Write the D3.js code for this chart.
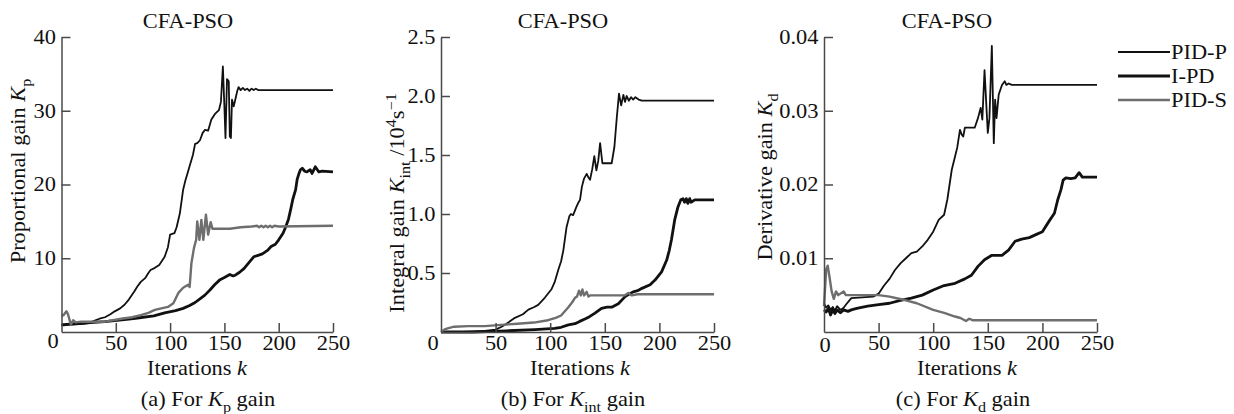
<!DOCTYPE html>
<html>
<head>
<meta charset="utf-8">
<script src="https://cdn.jsdelivr.net/npm/d3@7"></script>
<style>
body { margin: 0; background: #fff; }
svg text { font-family: "Liberation Serif", "Times New Roman", serif; fill: #111; }
</style>
</head>
<body>
<svg id="chart" width="1234" height="414"></svg>
<script>
// iterations on every x axis
const iterTicks = [50, 100, 150, 200, 250];
const kpTicks = [10, 20, 30, 40];
const kintTicks = [0.5, 1.0, 1.5, 2.0, 2.5];
const kdTicks = [0.01, 0.02, 0.03, 0.04];
const seriesNames = ["PID-P", "I-PD", "PID-S"];

// (a) Kp  -- [iteration, value]
const kpPIDP = [[0,1.0],[10,1.0],[20,1.1],[25,1.2],[30,1.5],[35,1.8],[40,2.0],[45,2.4],[49,2.8],[54,3.2],[58,3.7],[62,4.4],[67,5.5],[70,6.2],[73,6.8],[77,7.3],[80,8.0],[82,8.4],[86,8.7],[90,9.1],[95,10.2],[98,11.5],[100,13.2],[104,13.4],[106,14.2],[109,16.1],[112,19.3],[114,20.5],[116,21.5],[118,22.5],[121,24.0],[123,25.5],[125,25.6],[127.5,26.0],[130,27.0],[132,27.4],[135,27.3],[138,28.8],[141,29.5],[143,29.8],[145,30.1],[146.8,31.2],[148.6,36.0],[150,30.5],[151,26.3],[152.4,34.3],[154,34.0],[155,26.5],[156,26.3],[157,31.5],[158.6,30.6],[160,31.5],[161.7,32.6],[163,33.2],[165,32.8],[167,33.1],[169,32.8],[171,33.0],[173,32.7],[175,33.0],[177,32.8],[179,33.0],[181,32.8],[250,32.8]];
const kpIPD = [[0,0.95],[10,1.1],[20,1.2],[40,1.4],[60,1.7],[70,1.9],[85,2.2],[95,2.6],[105,2.9],[112,3.2],[118,3.6],[123,4.0],[127.5,4.5],[132,5.0],[136.7,5.7],[141,6.4],[146,7.1],[150,7.4],[155,7.8],[158,7.6],[160,7.7],[164,8.1],[168,8.6],[172,9.3],[177,10.2],[181,10.4],[185,10.6],[190,11.1],[193,11.6],[197,11.9],[200,12.5],[204,13.4],[206.6,14.3],[209,15.3],[211,16.6],[213,18.0],[215.6,19.3],[217,20.7],[218.7,21.5],[220,22.0],[221.7,22.2],[224,21.8],[226,21.7],[229,22.0],[230.7,21.5],[233.7,22.4],[237,21.7],[240,21.8],[250,21.7]];
const kpPIDS = [[0,2.2],[2,2.3],[4.6,2.8],[6,2.4],[8.6,1.0],[10.7,1.6],[13,1.3],[18,1.4],[30,1.4],[40,1.4],[55,1.8],[65,2.0],[73,2.3],[80,2.6],[86,3.0],[92,3.2],[98,3.4],[103,3.9],[107.6,5.3],[112,6.0],[116.6,6.4],[118,6.1],[119.6,9.3],[122,11.4],[124,12.5],[125,15.0],[127,12.5],[128.8,15.2],[130.6,12.5],[133,15.9],[135,13.2],[137.4,14.9],[139,14.0],[145,14.0],[155,14.0],[165,14.2],[175,14.3],[180,14.4],[182,14.2],[184,14.4],[186,14.2],[188,14.4],[190,14.2],[192,14.4],[194,14.2],[196,14.4],[200,14.3],[250,14.4]];

// (b) Kint, 10^4 s^-1
const kintPIDP = [[0,0],[20,0.0],[40,0.01],[50,0.02],[55.5,0.045],[60,0.07],[67.7,0.12],[75,0.15],[80,0.19],[85,0.21],[89,0.23],[95,0.29],[101,0.36],[104,0.42],[107.5,0.53],[110,0.6],[112,0.69],[115,0.89],[117.5,0.98],[119,1.0],[121,0.99],[124,1.06],[126,1.1],[127.3,1.12],[129,1.23],[131,1.3],[133.4,1.34],[135,1.31],[136.5,1.29],[138.5,1.38],[140.4,1.49],[142.3,1.37],[144,1.45],[145.7,1.6],[147.8,1.43],[150,1.43],[156.3,1.43],[158.8,1.57],[161,1.82],[163,2.02],[165,1.92],[167,2.01],[168.5,1.95],[170,2.0],[172,1.96],[174,1.99],[176,1.97],[178,1.99],[181,1.97],[184,1.96],[250,1.96]];
const kintIPD = [[0,0],[30,0.0],[60,0.01],[86,0.02],[104,0.03],[110,0.04],[116.6,0.06],[122.7,0.07],[127,0.09],[131.8,0.11],[136,0.13],[141,0.16],[147,0.2],[152,0.21],[156.3,0.21],[162.4,0.24],[168.6,0.3],[172,0.32],[176,0.34],[180,0.35],[184,0.37],[191.5,0.4],[196,0.44],[202,0.51],[206.7,0.61],[209,0.69],[211,0.78],[214,0.95],[217,1.06],[219.6,1.12],[221.7,1.13],[223,1.1],[224.7,1.13],[226,1.09],[227.8,1.13],[229,1.1],[232.4,1.12],[240,1.12],[250,1.12]];
const kintPIDS = [[0,0],[3,0.02],[6,0.03],[12,0.045],[25,0.05],[40,0.05],[55,0.06],[70,0.07],[85,0.08],[98,0.1],[105,0.12],[110,0.14],[116.6,0.21],[120,0.25],[122.7,0.29],[124.5,0.3],[126.4,0.35],[128,0.31],[129.5,0.36],[131,0.31],[133.4,0.34],[135,0.3],[136.5,0.31],[141,0.31],[168,0.31],[171.6,0.33],[174.7,0.31],[180,0.32],[250,0.32]];

// (c) Kd
const kdPIDP = [[0,0.0039],[2,0.0033],[4,0.0036],[6,0.003],[8,0.0034],[10,0.0029],[12,0.0035],[15,0.003],[18,0.0033],[20,0.0037],[25,0.0046],[35,0.0047],[45,0.0048],[50,0.0052],[55,0.0063],[60,0.0072],[65,0.0084],[70,0.0093],[75,0.01],[80,0.0107],[85,0.0109],[90,0.0116],[95,0.0125],[100,0.0136],[105,0.0152],[110,0.0159],[113,0.018],[117,0.022],[120,0.0238],[122,0.025],[124.5,0.0274],[126,0.0268],[127.5,0.0265],[129,0.0277],[132,0.0277],[138,0.0277],[141,0.029],[143.5,0.0304],[145,0.0288],[147,0.0355],[150,0.027],[151.5,0.029],[153.7,0.0388],[155.5,0.0256],[156.7,0.0315],[158,0.029],[160,0.0322],[163,0.0335],[165.5,0.034],[167,0.0335],[169,0.0337],[172,0.0335],[250,0.0335]];
const kdIPD = [[0,0.003],[2,0.0027],[4,0.0032],[6,0.0023],[8,0.003],[10,0.0025],[12,0.003],[15,0.0026],[18,0.003],[22,0.0028],[25,0.003],[30,0.0032],[40,0.0035],[50,0.0037],[60,0.0039],[70,0.0043],[80,0.0046],[90,0.005],[100,0.0057],[110,0.0063],[120,0.0066],[129,0.0072],[135,0.0077],[141,0.0089],[147,0.0098],[153.7,0.0104],[163,0.0104],[169,0.0111],[175,0.0123],[181,0.0126],[188,0.0128],[194,0.0132],[200,0.0136],[206,0.015],[211,0.0161],[214,0.0179],[217,0.0193],[219,0.0206],[221.5,0.0209],[226,0.0208],[230,0.0209],[233.6,0.0216],[236.6,0.021],[242.7,0.021],[250,0.021]];
const kdPIDS = [[0,0.0035],[1,0.006],[2,0.0085],[3.4,0.009],[5,0.0075],[7,0.0055],[9,0.0045],[11,0.0055],[13,0.005],[18,0.0055],[20,0.005],[50,0.005],[60,0.0048],[75,0.0043],[85,0.0039],[100,0.003],[110,0.0026],[120,0.0021],[125,0.0019],[130,0.0015],[133,0.0018],[136,0.0016],[250,0.0016]];

const chart = d3.select("#chart");
const FS = 20;       // base font size
const SX = 1.12;     // the scan is a bit wide, stretch text to match
const axisColor = "#4a4a4a";
const lineStyle = [
    {color: "#111", width: 1.8},
    {color: "#111", width: 2.8},
    {color: "#6e6e6e", width: 2.4}
];

// text with italic / sub / sup pieces, (x,y) is the vertical middle
function richText(parent, x, y, parts, rot, anchor) {
    let g = parent.append("g")
        .attr("transform", "translate(" + x + "," + y + ") rotate(" + (rot || 0) + ")");
    let t = g.append("text")
        .attr("transform", "scale(" + SX + ",1)")
        .attr("text-anchor", anchor || "middle")
        .style("font-size", FS + "px");
    let shift = -FS * 0.35;
    parts.forEach(function (p) {
        if (typeof p === "string") p = {t: p};
        let target = p.sub ? FS * 0.28 : p.sup ? -FS * 0.4 : 0;
        let ts = t.append("tspan").text(p.t).attr("dy", target - shift);
        shift = target;
        if (p.sub || p.sup) ts.style("font-size", (FS * 0.72) + "px");
        if (p.it) ts.style("font-style", "italic");
    });
    return t;
}

function drawPanel(p) {
    let g = chart.append("g");

    let x = d3.scaleLinear().domain([0, 250]).range([p.x0, p.x1]);
    let y = d3.scaleLinear().domain([0, p.yMax]).range([332, 37]);

    // curves
    let line = d3.line().x(function (d) { return x(d[0]); }).y(function (d) { return y(d[1]); });
    p.series.forEach(function (s, i) {
        g.append("path")
            .datum(s)
            .attr("d", line)
            .attr("fill", "none")
            .attr("stroke", lineStyle[i].color)
            .attr("stroke-width", lineStyle[i].width)
            .attr("stroke-linejoin", "round");
    });

    // axes, ticks point inwards
    let xAxis = d3.axisBottom(x).tickValues(iterTicks).tickSizeInner(-9).tickSizeOuter(0).tickPadding(4);
    let yAxis = d3.axisLeft(y).tickValues(p.ticks).tickFormat(p.fmt).tickSizeInner(-9).tickSizeOuter(0).tickPadding(5);
    let xg = g.append("g").attr("transform", "translate(0,332)").call(xAxis);
    let yg = g.append("g").attr("transform", "translate(" + p.x0 + ",0)").call(yAxis);
    [xg, yg].forEach(function (a) {
        a.attr("font-family", null).attr("font-size", null);
        a.selectAll("path, line").attr("stroke", axisColor).attr("stroke-width", 1.5);
        a.selectAll("text")
            .attr("fill", null)
            .style("font-size", FS + "px")
            .attr("transform", "scale(" + SX + ",1)");
    });

    // shared origin label
    richText(g, p.x0 + p.zeroDx, p.zeroY, ["0"]);

    richText(g, p.titleX, 21, ["CFA-PSO"]);
    richText(g, p.midX, 368, ["Iterations  ", {t: "k", it: true}]);
    richText(g, p.capX, 399, p.caption);
    richText(g, p.labX, p.labY, p.label, -90);
}

drawPanel({
    x0: 61.5, x1: 333, yMax: 40, ticks: kpTicks, fmt: d3.format("d"),
    series: [kpPIDP, kpIPD, kpPIDS],
    zeroDx: -8.5, zeroY: 341, titleX: 188, midX: 197, capX: 208,
    labX: 18, labY: 171,
    label: ["Proportional gain  ", {t: "K", it: true}, {t: "p", sub: true}],
    caption: ["(a) For ", {t: "K", it: true}, {t: "p", sub: true}, " gain"]
});
drawPanel({
    x0: 441, x1: 714, yMax: 2.5, ticks: kintTicks, fmt: d3.format(".1f"),
    series: [kintPIDP, kintIPD, kintPIDS],
    zeroDx: -8, zeroY: 343, titleX: 563, midX: 580, capX: 573,
    labX: 397, labY: 203,
    label: ["Integral gain  ", {t: "K", it: true}, {t: "int", sub: true}, " /10", {t: "4", sup: true}, "s", {t: "\u22121", sup: true}],
    caption: ["(b) For ", {t: "K", it: true}, {t: "int", sub: true}, " gain"]
});
drawPanel({
    x0: 824, x1: 1097, yMax: 0.04, ticks: kdTicks, fmt: d3.format(".2f"),
    series: [kdPIDP, kdIPD, kdPIDS],
    zeroDx: 1, zeroY: 345, titleX: 947, midX: 967, capX: 963,
    labX: 765, labY: 177,
    label: ["Derivative gain  ", {t: "K", it: true}, {t: "d", sub: true}],
    caption: ["(c) For ", {t: "K", it: true}, {t: "d", sub: true}, " gain"]
});

// legend
let legend = chart.append("g").attr("transform", "translate(1118,52)");
seriesNames.forEach(function (name, i) {
    legend.append("line")
        .attr("x1", 0).attr("x2", 52)
        .attr("y1", i * 24).attr("y2", i * 24)
        .attr("stroke", lineStyle[i].color)
        .attr("stroke-width", lineStyle[i].width);
    richText(legend, 53, i * 24, [name], 0, "start");
});
</script>
</body>
</html>
